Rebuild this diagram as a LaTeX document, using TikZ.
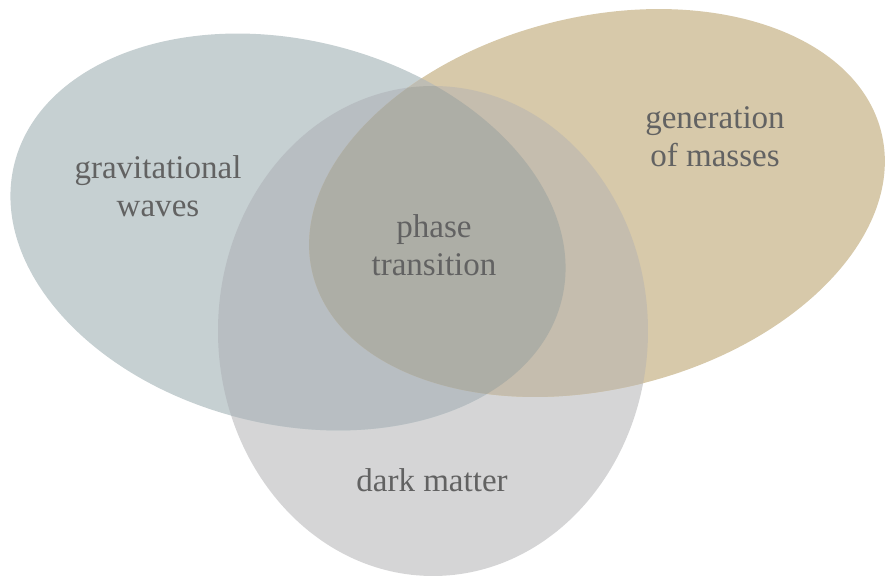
\documentclass[tikz,border=0pt]{standalone}
\usepackage{fontspec}
\setmainfont{Liberation Serif}

\definecolor{gwblue}{RGB}{198,208,210}
\definecolor{gmtan}{RGB}{215,201,170}
\definecolor{dmgrey}{RGB}{213,213,214}
\definecolor{gwdm}{RGB}{184,190,194}
\definecolor{gmdm}{RGB}{197,189,174}
\definecolor{gwgm}{RGB}{190,189,180}
\definecolor{ptcore}{RGB}{173,174,166}
\definecolor{labelgrey}{RGB}{98,98,98}

% the three sets
\newcommand{\gwset}{[rotate around={-14:(2.88,3.45)}] (2.88,3.45) ellipse (2.82 and 1.92)}
\newcommand{\gmset}{[rotate around={14:(5.97,3.74)}] (5.97,3.74) ellipse (2.93 and 1.86)}
\newcommand{\dmset}{(4.33,2.46) ellipse (2.15 and 2.45)}

\tikzset{setlabel/.style={text=labelgrey,align=center,anchor=base,
    font=\fontsize{9.4}{11}\selectfont}}

\begin{document}
\begin{tikzpicture}
	\useasboundingbox (0,0) rectangle (8.88,5.77);
	\fill[dmgrey] \dmset;
	\fill[gwblue] \gwset;
	\fill[gmtan]  \gmset;
	% overlaps
	\begin{scope}
		\clip \gwset;
		\fill[gwgm] \gmset;
		\fill[gwdm] \dmset;
	\end{scope}
	\begin{scope}
		\clip \gmset;
		\fill[gmdm] \dmset;
	\end{scope}
	\begin{scope}
		\clip \gwset;
		\clip \gmset;
		\fill[ptcore] \dmset;
	\end{scope}
	% base = last line
	\node[setlabel] (gw) at (1.58,3.60) {gravitational\\waves};
	\node[setlabel] (gm) at (7.15,4.10) {generation\\of masses};
	\node[setlabel] (pt) at (4.34,3.01) {phase\\transition};
	\node[setlabel] (dm) at (4.32,0.85) {dark matter};
\end{tikzpicture}
\end{document}
